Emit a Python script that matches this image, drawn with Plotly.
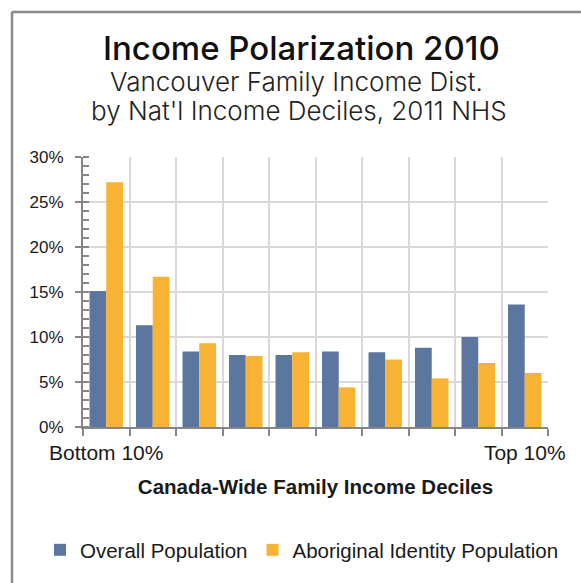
import plotly.graph_objects as go

# Canada-wide family income deciles (1 = bottom 10%, 10 = top 10%)
deciles = ["1", "2", "3", "4", "5", "6", "7", "8", "9", "10"]
decile_labels = ["Bottom 10%", "", "", "", "", "", "", "", "", "Top 10%"]

# Share of Vancouver families in each national decile (%)
overall_pct = [15.1, 11.3, 8.4, 8.0, 8.0, 8.4, 8.3, 8.8, 10.0, 13.6]
aboriginal_pct = [27.2, 16.7, 9.3, 7.9, 8.3, 4.4, 7.5, 5.4, 7.1, 6.0]

series_names = ["Overall Population", "Aboriginal Identity Population"]
y_tick_values = [0, 5, 10, 15, 20, 25, 30]
y_tick_labels = [f"{v}%" for v in y_tick_values]

title_text = "Income Polarization 2010"
subtitle_lines = ["Vancouver Family Income Dist.", "by Nat'l Income Deciles, 2011 NHS"]
x_title_text = "Canada-Wide Family Income Deciles"

BLUE = "#5B77A0"
ORANGE = "#F8B334"
GRID = "#D9D9D9"
AXIS = "#868686"
TEXT_FONT = "Liberation Sans"

# plot area in pixels
W, H = 581, 583
L, R, T, B = 83, 33, 157, 156
PW, PH = W - L - R, H - T - B


def px_to_paper(px, py):
    return (px - L) / PW, (H - B - py) / PH


fig = go.Figure()
fig.add_bar(x=deciles, y=overall_pct, name=series_names[0],
            marker=dict(color=BLUE, line=dict(width=0)))
fig.add_bar(x=deciles, y=aboriginal_pct, name=series_names[1],
            marker=dict(color=ORANGE, line=dict(width=0)))

title_xy = px_to_paper(301, 48)
sub1_xy = px_to_paper(296, 81)
sub2_xy = px_to_paper(299, 110)
legend_xy = px_to_paper(40, 550)
frame_x, frame_y = px_to_paper(12, 12)

fig.update_layout(
    width=W, height=H,
    margin=dict(l=L, r=R, t=T, b=B),
    paper_bgcolor="white", plot_bgcolor="white",
    barmode="group", bargap=0.28, bargroupgap=0,
    font=dict(family=TEXT_FONT, color="#1a1a1a"),
    xaxis=dict(
        type="category", tickmode="array", tickvals=deciles, ticktext=decile_labels,
        tickson="boundaries", tickangle=0, automargin=False,
        ticks="outside", ticklen=7, tickwidth=2, tickcolor=AXIS,
        showgrid=True, gridcolor=GRID, gridwidth=2,
        showline=True, linecolor=AXIS, linewidth=2,
        zeroline=False,
        ticklabelstandoff=6,
        tickfont=dict(family=TEXT_FONT, size=21, color="#1a1a1a"),
        title=dict(text=x_title_text, standoff=16,
                   font=dict(family=TEXT_FONT, size=20.5, weight="bold", color="#1a1a1a")),
    ),
    yaxis=dict(
        range=[0, 30], tickmode="array", tickvals=y_tick_values, ticktext=y_tick_labels,
        automargin=False,
        ticks="outside", ticklen=6, tickwidth=2, tickcolor=AXIS,
        minor=dict(ticks="inside", ticklen=6, tickwidth=1.5, tickcolor=AXIS,
                   dtick=1, showgrid=False),
        showgrid=True, gridcolor=GRID, gridwidth=2,
        showline=True, linecolor=AXIS, linewidth=2,
        zeroline=False,
        ticklabelstandoff=8,
        tickfont=dict(family=TEXT_FONT, size=17, color="#1a1a1a"),
    ),
    yaxis2=dict(
        overlaying="y", anchor="x", side="left", automargin=False,
        range=[0, 30], tickmode="array", tickvals=y_tick_values,
        ticks="inside", ticklen=6, tickwidth=2, tickcolor=AXIS,
        showticklabels=False, showgrid=False, showline=False, zeroline=False,
    ),
    legend=dict(
        orientation="h", x=legend_xy[0], xanchor="left",
        y=legend_xy[1], yanchor="middle",
        font=dict(family=TEXT_FONT, size=20.5, color="#1a1a1a"),
        itemwidth=30, tracegroupgap=0,
    ),
    showlegend=True,
    annotations=[
        dict(text=title_text, xref="paper", yref="paper",
             x=title_xy[0], y=title_xy[1], xanchor="center", yanchor="middle",
             showarrow=False,
             font=dict(family="Inter", size=33, weight=500, color="#111111")),
        dict(text=subtitle_lines[0], xref="paper", yref="paper",
             x=sub1_xy[0], y=sub1_xy[1], xanchor="center", yanchor="middle",
             showarrow=False,
             font=dict(family="Inter", size=26, weight=300, color="#222222")),
        dict(text=subtitle_lines[1], xref="paper", yref="paper",
             x=sub2_xy[0], y=sub2_xy[1], xanchor="center", yanchor="middle",
             showarrow=False,
             font=dict(family="Inter", size=26, weight=300, color="#222222")),
    ],
    shapes=[
        # frame around the whole chart
        dict(type="line", xref="paper", yref="paper", x0=frame_x, x1=2.0,
             y0=frame_y, y1=frame_y, line=dict(color="#8A8A8A", width=2.5)),
        dict(type="line", xref="paper", yref="paper", x0=frame_x, x1=frame_x,
             y0=-2.0, y1=frame_y, line=dict(color="#8A8A8A", width=2.5)),
    ],
)

fig.write_html("out.html")
